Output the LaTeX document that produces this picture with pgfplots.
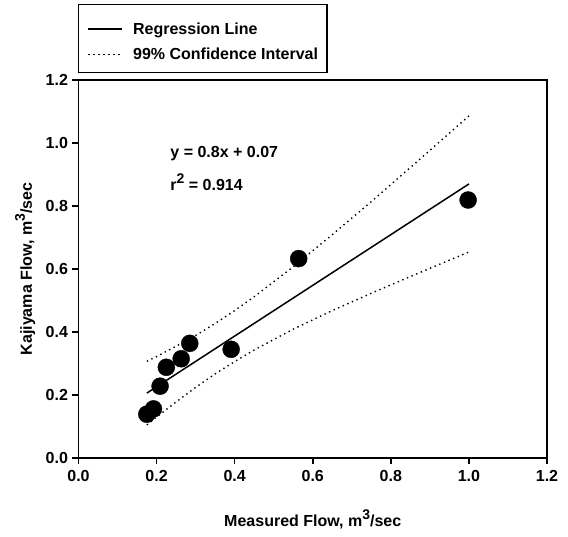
\documentclass[border=0pt]{standalone}
\usepackage{fontspec}
\setmainfont{Liberation Sans}
\usepackage{pgfplots}
\pgfplotsset{compat=1.18}
\newcommand{\lbl}{\bfseries\fontsize{16}{19}\selectfont}
\newcommand{\supx}[1]{\raisebox{7pt}{\fontsize{14}{14}\selectfont #1}}
\begin{document}
\begin{tikzpicture}
\path[use as bounding box] (0,0) rectangle (568pt,536pt);
\begin{axis}[
  at={(78.5pt,78pt)}, anchor=south west,
  scale only axis, width=468.5pt, height=378pt,
  xmin=0, xmax=1.2, ymin=0, ymax=1.2,
  xtick={0,0.2,0.4,0.6,0.8,1.0,1.2},
  ytick={0,0.2,0.4,0.6,0.8,1.0,1.2},
  xtick pos=bottom, ytick pos=left,
  tick align=outside,
  major tick length=6pt,
  axis line style={line width=1.5pt},
  every tick/.style={black, line width=1.5pt},
  /pgf/number format/assume math mode=true,
  /pgf/number format/.cd, fixed, fixed zerofill, precision=1, /pgfplots/.cd,
  tick label style={font=\lbl},
  xticklabel style={yshift=-3pt},
  yticklabel style={xshift=-1pt},
  xlabel={Measured Flow, m\supx{3}/sec},
  ylabel={Kajiyama Flow, m\supx{3}/sec},
  label style={font=\lbl},
  xlabel style={at={(axis description cs:0.5,-0.161)}, anchor=center},
  ylabel style={at={(axis description cs:-0.114,0.5)}, anchor=center},
  legend style={at={(axis description cs:-0.001,1.201)}, anchor=north west,
    draw=black, line width=1.2pt, font=\lbl, inner xsep=9pt, inner ysep=9.5pt,
    legend cell align=left, row sep=1.9pt, column sep=10pt,
    nodes={inner sep=0pt, text height=20.5pt, text depth=2.9pt}},
  legend image code/.code={\draw[#1] (0pt,-3.2pt) -- (34pt,-3.2pt);},
  clip=false,
]
\addplot[black, line width=1.5pt] coordinates {(0.175,0.206) (1.0,0.870)};
\addlegendentry{Regression Line}
\addplot[black, line width=1.4pt, dash pattern=on 1.4pt off 3.6pt] coordinates {
(0.175,0.307) (0.2,0.322) (0.25,0.355) (0.3,0.389) (0.35,0.427) (0.4,0.468)
(0.45,0.512) (0.55,0.607) (0.65,0.709) (0.75,0.814) (0.85,0.922) (1.0,1.086)};
\addlegendentry{99\% Confidence Interval}
\addplot[black, line width=1.4pt, dash pattern=on 1.4pt off 3.6pt, forget plot] coordinates {
(0.175,0.105) (0.2,0.130) (0.25,0.178) (0.3,0.224) (0.35,0.267) (0.4,0.306)
(0.45,0.343) (0.55,0.409) (0.65,0.468) (0.75,0.523) (0.85,0.576) (1.0,0.654)};
\addplot[only marks, mark=*, mark size=8.5pt, black, forget plot] coordinates {
(0.175,0.139) (0.192,0.156) (0.209,0.228) (0.225,0.288) (0.263,0.315)
(0.285,0.364) (0.391,0.345) (0.564,0.633) (0.998,0.819)};
\node[anchor=west, font=\lbl, inner sep=0pt] at (axis cs:0.235,0.968) {y = 0.8x + 0.07};
\node[anchor=west, font=\lbl, inner sep=0pt] at (axis cs:0.235,0.876) {r\supx{2} = 0.914};
\end{axis}
\end{tikzpicture}
\end{document}
